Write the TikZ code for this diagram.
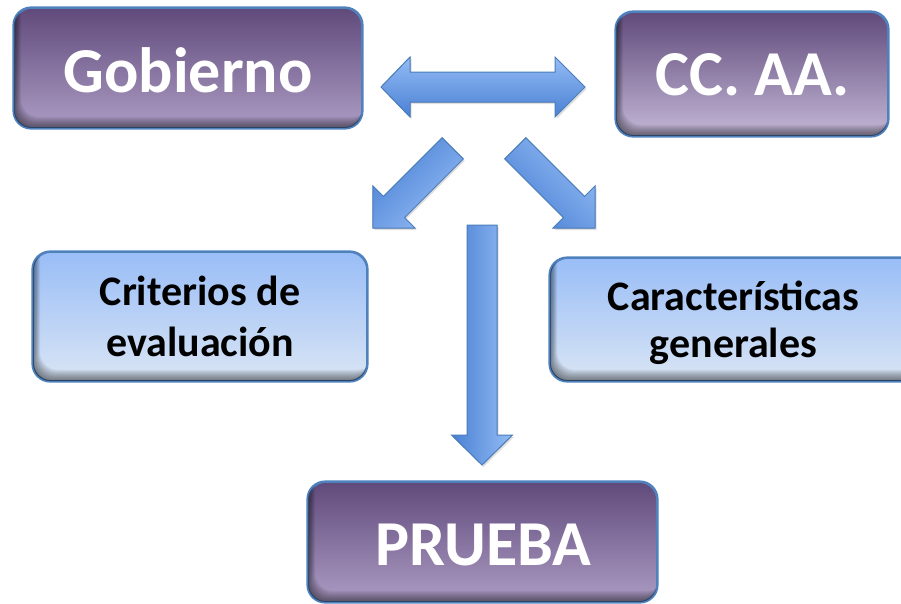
\documentclass[tikz,border=0pt]{standalone}
\usepackage{fontspec}
\setmainfont{Carlito}
\usetikzlibrary{shadows}
\definecolor{purpTop}{HTML}{604A7B}
\definecolor{purpBot}{HTML}{AC9CC4}
\definecolor{purpBotL}{HTML}{C3B7D6}
\definecolor{blueTop}{HTML}{99BDF7}
\definecolor{blueBot}{HTML}{D9E5F4}
\definecolor{edgeBlue}{HTML}{4F81BD}
\definecolor{arrDark}{HTML}{4A80D4}
\definecolor{arrLight}{HTML}{94BCF5}
\definecolor{arrEdge}{HTML}{4A7EBB}
\newcommand\innershade[1]{%
  \begin{scope}
    \clip[rounded corners=18pt] (#1.south west) rectangle (#1.north east);
    \foreach \k in {1,...,12}{
      \fill[black,opacity=0.05,even odd rule]
        ([shift={(-40,40)}]#1.south west) rectangle ([shift={(40,-40)}]#1.north east)
        [rounded corners=18pt]
        ([shift={(0.65*\k,-\k)}]#1.south west) rectangle ([shift={(0.65*\k,-\k)}]#1.north east);
    }
  \end{scope}
  \draw[edgeBlue,line width=1.6pt,rounded corners=18pt] (#1.south west) rectangle (#1.north east);}
\tikzset{
  box/.style={rectangle, rounded corners=18pt, draw=edgeBlue, line width=1.6pt, inner sep=0pt},
  purplebox/.style={box, top color=purpTop, bottom color=purpBot},
  bluebox/.style={box, top color=blueTop, bottom color=blueBot},
  bigtext/.style={anchor=base, inner sep=0pt, text=white, font=\fontsize{64}{70}\selectfont\bfseries},
  smalltext/.style={anchor=base, inner sep=0pt, text=black, font=\fontsize{42}{50}\selectfont\bfseries},
  blockarrow/.style={draw=arrEdge, line width=1pt, line join=miter,
    drop shadow={opacity=0.25, shadow xshift=1.5pt, shadow yshift=-2pt}}
}
\begin{document}
\begin{tikzpicture}[x=1pt,y=-1pt]
\useasboundingbox (0,0) rectangle (901,603);

% boxes
\node[purplebox, minimum width=348pt, minimum height=120pt] (gob) at (188,68) {};
\node[purplebox, bottom color=purpBotL, minimum width=272pt, minimum height=124pt] (cca) at (752,74) {};
\node[bluebox, minimum width=334pt, minimum height=129pt] (crit) at (200,316.5) {};
\node[bluebox, minimum width=367pt, minimum height=123pt] (carac) at (733.5,319.5) {};
\node[purplebox, minimum width=349pt, minimum height=120pt] (prueba) at (482.5,542) {};
\innershade{gob}
\innershade{cca}
\innershade{crit}
\innershade{carac}
\innershade{prueba}

% texts
\node[bigtext] (gobT) at (188,92) {Gobierno};
\node[bigtext] (ccaT) at (752.5,95) {CC. AA.};
\node[bigtext] (pruebaT) at (483.5,565) {PRUEBA};
\node[smalltext] (critA) at (200,305) {Criterios de};
\node[smalltext] (critB) at (200,356) {evaluación};
\node[smalltext] (caracA) at (733.5,310) {Características};
\node[smalltext] (caracB) at (733.5,357) {generales};

% block arrows
\fill[blockarrow, top color=arrLight, bottom color=arrDark]
  (381,87) -- (410,57) -- (410,72) -- (555,72) -- (555,57) -- (585,87)
  -- (555,117) -- (555,102) -- (410,102) -- (410,117) -- cycle;
\fill[blockarrow, left color=arrDark, right color=arrLight]
  (467,225) -- (497,225) -- (497,435) -- (512.5,435) -- (482,465)
  -- (451.5,435) -- (467,435) -- cycle;
\fill[blockarrow, top color=arrDark, bottom color=arrLight, shading angle=45]
  (372.8,228.2) -- (372.8,185.8) -- (383.4,196.4) -- (442.1,137.7)
  -- (463.3,158.9) -- (404.6,217.6) -- (415.2,228.2) -- cycle;
\fill[blockarrow, top color=arrLight, bottom color=arrDark, shading angle=-45]
  (595.2,228.2) -- (552.8,228.2) -- (563.4,217.6) -- (504.7,158.9)
  -- (525.9,137.7) -- (584.6,196.4) -- (595.2,185.8) -- cycle;
\end{tikzpicture}
\end{document}
